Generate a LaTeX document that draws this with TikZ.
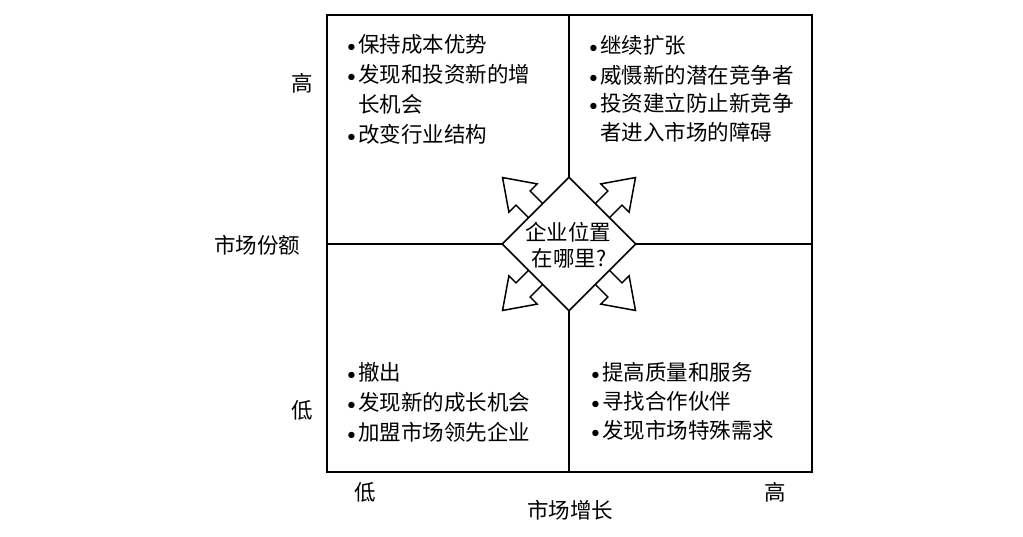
\documentclass[tikz,border=0pt]{standalone}
\usepackage{fontspec}
\newfontfamily\cjk{Noto Sans CJK SC}
\usetikzlibrary{shapes.geometric}
\tikzset{
  frame/.style={draw=black,line width=1.6pt},
  axisline/.style={draw=black,line width=1.4pt},
  txt/.style={font=\cjk\fontsize{21.5}{30}\selectfont,inner sep=0pt,anchor=west},
  lbl/.style={font=\cjk\fontsize{21.5}{30}\selectfont,inner sep=0pt},
  blockarrow/.style={draw=black,fill=white,line width=1.5pt,line join=miter},
  dia/.style={diamond,draw=black,fill=white,line width=1.6pt,minimum width=134pt,minimum height=134pt,inner sep=0pt}
}
\newcommand\bul{\makebox[16pt][l]{\rmfamily\bfseries\textbullet}}
\begin{document}
\begin{tikzpicture}[x=1pt,y=-1pt]
\useasboundingbox (0,0) rectangle (1023,536);
% frame
\coordinate (tl) at (327,15);
\coordinate (br) at (812,472);
\coordinate (tm) at (569,15);
\coordinate (bm) at (569,472);
\coordinate (lm) at (327,244);
\coordinate (rm) at (812,244);
\draw[axisline] (tm) -- (bm);
\draw[axisline] (lm) -- (rm);
\draw[frame] (tl) rectangle (br);
% block arrows
\foreach \ang in {45,135,225,315}{
  \begin{scope}[shift={(569,244)},rotate=\ang]
    \draw[blockarrow] (40,-10) -- (65,-10) -- (65,-20) -- (94,0) -- (65,20) -- (65,10) -- (40,10) -- cycle;
  \end{scope}
}
% diamond
\node[dia] (d) at (569,244) {};
\node[lbl] (d1) at (568,232) {企业位置};
\node[lbl] (d2) at (569,258) {在哪里?};
% upper-left
\node[txt] (ul1) at (342,44) {\bul 保持成本优势};
\node[txt] (ul2) at (342,74) {\bul 发现和投资新的增};
\node[txt] (ul3) at (358,104) {长机会};
\node[txt] (ul4) at (342,134) {\bul 改变行业结构};
% upper-right
\node[txt] (ur1) at (584,45) {\bul 继续扩张};
\node[txt] (ur2) at (584,75) {\bul 威慑新的潜在竞争者};
\node[txt] (ur3) at (584,103) {\bul 投资建立防止新竞争};
\node[txt] (ur4) at (600,132) {者进入市场的障碍};
% lower-left
\node[txt] (ll1) at (342,372) {\bul 撤出};
\node[txt] (ll2) at (342,402) {\bul 发现新的成长机会};
\node[txt] (ll3) at (342,432) {\bul 加盟市场领先企业};
% lower-right
\node[txt] (lr1) at (586,372) {\bul 提高质量和服务};
\node[txt] (lr2) at (586,401) {\bul 寻找合作伙伴};
\node[txt] (lr3) at (586,430) {\bul 发现市场特殊需求};
% axis labels
\node[lbl] (yh) at (302,83) {高};
\node[lbl] (ym) at (257,245) {市场份额};
\node[lbl] (yl) at (302,410) {低};
\node[lbl] (xl) at (365,492) {低};
\node[lbl] (xh) at (775,492) {高};
\node[lbl] (xm) at (570,510) {市场增长};
\end{tikzpicture}
\end{document}
